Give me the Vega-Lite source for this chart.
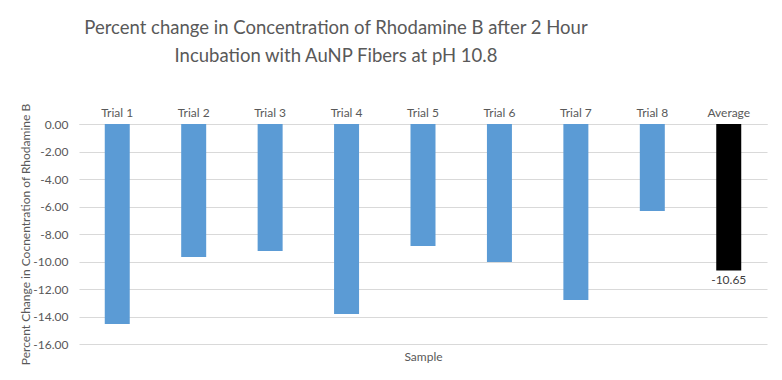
{
  "$schema": "https://vega.github.io/schema/vega-lite/v6.json",
  "width": 688,
  "height": 220,
  "autosize": {"type": "none"},
  "padding": {"left": 79, "top": 124, "right": 15, "bottom": 36},
  "background": "white",
  "title": {
    "text": ["Percent change in Concentration of Rhodamine B after 2 Hour", "Incubation with AuNP Fibers at pH 10.8"],
    "font": "Lato",
    "fontSize": 18.5,
    "fontWeight": "normal",
    "color": "#595959",
    "anchor": "middle",
    "dx": -87,
    "lineHeight": 28,
    "offset": 38
  },
  "config": {
    "view": {"stroke": null},
    "font": "Lato",
    "locale": {"number": {"decimal": ".", "thousands": ",", "grouping": [3], "currency": ["$", ""], "minus": "-"}},
    "axis": {"labelFont": "Lato", "titleFont": "Lato", "labelColor": "#595959", "titleColor": "#595959", "titleFontWeight": "normal"}
  },
  "data": {
    "values": [
      {"Sample": "Trial 1", "Change": -14.55, "Kind": "Trial"},
      {"Sample": "Trial 2", "Change": -9.67, "Kind": "Trial"},
      {"Sample": "Trial 3", "Change": -9.24, "Kind": "Trial"},
      {"Sample": "Trial 4", "Change": -13.82, "Kind": "Trial"},
      {"Sample": "Trial 5", "Change": -8.87, "Kind": "Trial"},
      {"Sample": "Trial 6", "Change": -10.04, "Kind": "Trial"},
      {"Sample": "Trial 7", "Change": -12.8, "Kind": "Trial"},
      {"Sample": "Trial 8", "Change": -6.33, "Kind": "Trial"},
      {"Sample": "Average", "Change": -10.65, "Kind": "Average"}
    ]
  },
  "encoding": {
    "x": {
      "field": "Sample",
      "type": "nominal",
      "sort": null,
      "scale": {"paddingInner": 0.673, "paddingOuter": 0.337},
      "axis": {
        "orient": "top",
        "title": "Sample",
        "titleFontSize": 12,
        "titleY": 232,
        "titleBaseline": "middle",
        "labelAngle": 0,
        "labelFontSize": 12,
        "labelPadding": 12,
        "ticks": false,
        "domain": true,
        "domainColor": "#d9d9d9",
        "labelBaseline": "middle"
      }
    },
    "y": {
      "field": "Change",
      "type": "quantitative",
      "scale": {"domain": [-16, 0], "nice": false},
      "axis": {
        "title": "Percent Change in Cocnentration of Rhodamine B",
        "titleFontSize": 12,
        "titlePadding": 0,
        "values": [0, -2, -4, -6, -8, -10, -12, -14, -16],
        "format": ".2f",
        "labelFontSize": 12,
        "labelPadding": 11,
        "ticks": false,
        "domain": false,
        "gridColor": "#d9d9d9",
        "gridWidth": 1
      }
    }
  },
  "layer": [
    {
      "mark": {"type": "bar"},
      "encoding": {
        "color": {
          "field": "Kind",
          "type": "nominal",
          "scale": {"domain": ["Trial", "Average"], "range": ["#5B9BD5", "#000000"]},
          "legend": null
        }
      }
    },
    {
      "transform": [{"filter": "datum.Sample == 'Average'"}],
      "mark": {"type": "text", "baseline": "top", "dy": 5, "fontSize": 12, "color": "#404040", "font": "Lato"},
      "encoding": {
        "text": {"field": "Change", "type": "quantitative", "format": ".2f"}
      }
    }
  ]
}
